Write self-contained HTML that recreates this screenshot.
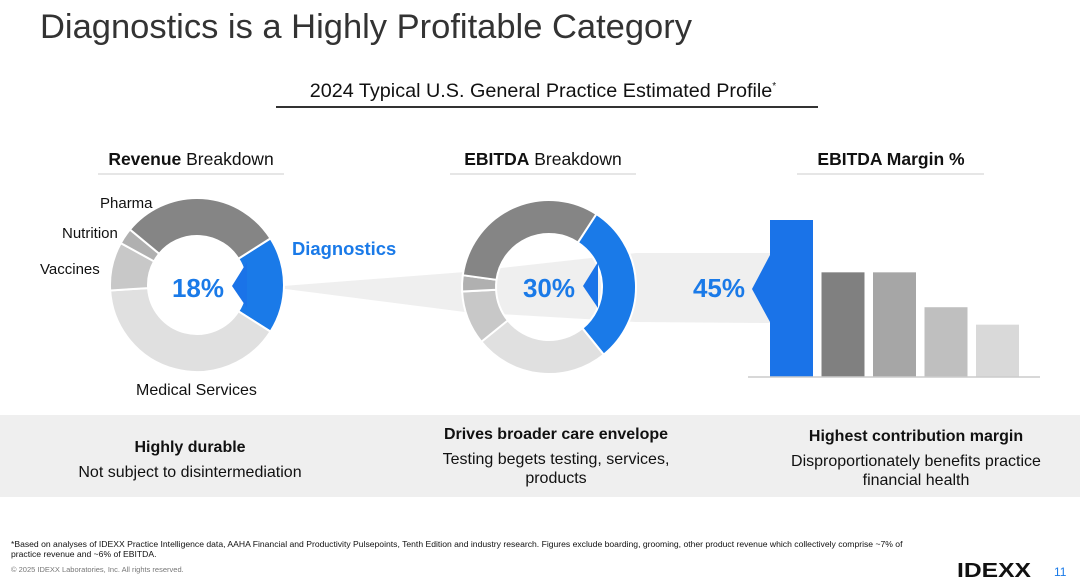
<!DOCTYPE html>
<html><head><meta charset="utf-8"><style>
html,body{margin:0;padding:0;background:#fff;}
body{width:1080px;height:583px;overflow:hidden;font-family:"Liberation Sans",sans-serif;}
svg text{font-family:"Liberation Sans",sans-serif;}
</style></head><body>
<svg id="s" width="1080" height="583" viewBox="0 0 1080 583">
<text x="40" y="38" font-size="34.5" fill="#333">Diagnostics is a Highly Profitable Category</text>
<text x="543" y="97" font-size="19.8" fill="#111" text-anchor="middle">2024 Typical U.S. General Practice Estimated Profile<tspan font-size="10" dy="-8">*</tspan></text>
<line x1="276" y1="107" x2="818" y2="107" stroke="#333" stroke-width="2"/>
<text x="191" y="165" font-size="17.5" fill="#111" text-anchor="middle"><tspan font-weight="bold">Revenue</tspan> Breakdown</text>
<line x1="98" y1="174" x2="284" y2="174" stroke="#ddd" stroke-width="1.5"/>
<text x="543" y="165" font-size="17.5" fill="#111" text-anchor="middle"><tspan font-weight="bold">EBITDA</tspan> Breakdown</text>
<line x1="450" y1="174" x2="636" y2="174" stroke="#ddd" stroke-width="1.5"/>
<text x="891" y="165" font-size="17.5" fill="#111" text-anchor="middle" font-weight="bold">EBITDA Margin %</text>
<line x1="797" y1="174" x2="984" y2="174" stroke="#ddd" stroke-width="1.5"/>
<polygon points="270,287 465,272 636,253 770,253 770,323 636,322 465,312" fill="#efefef"/>
<g id="d1"></g><g id="d2"></g><g id="bars"></g>
<polygon points="247,262 232,286 247,308" fill="#1a73e8"/>
<polygon points="598,262 583,286 598,308" fill="#1a73e8"/>
<polygon points="770,255 752,289 770,322" fill="#1a73e8"/>
<text x="198" y="297" font-size="26" font-weight="bold" fill="#1a7ae8" text-anchor="middle">18%</text>
<text x="549" y="297" font-size="26" font-weight="bold" fill="#1a7ae8" text-anchor="middle">30%</text>
<text x="719" y="297" font-size="26" font-weight="bold" fill="#1a7ae8" text-anchor="middle">45%</text>
<text x="292" y="255" font-size="18.4" font-weight="bold" fill="#1a7ae8">Diagnostics</text>
<text x="100" y="208" font-size="15" fill="#111">Pharma</text>
<text x="62" y="238" font-size="15" fill="#111">Nutrition</text>
<text x="40" y="274" font-size="15" fill="#111">Vaccines</text>
<text x="136" y="395" font-size="16" fill="#111">Medical Services</text>
<rect x="0" y="415" width="1080" height="82" fill="#efefef"/>
<text x="190" y="452" font-size="16" font-weight="bold" fill="#111" text-anchor="middle">Highly durable</text>
<text x="190" y="477" font-size="16" fill="#111" text-anchor="middle">Not subject to disintermediation</text>
<text x="556" y="439" font-size="16" font-weight="bold" fill="#111" text-anchor="middle">Drives broader care envelope</text>
<text x="556" y="464" font-size="16" fill="#111" text-anchor="middle">Testing begets testing, services,</text>
<text x="556" y="483" font-size="16" fill="#111" text-anchor="middle">products</text>
<text x="916" y="441" font-size="16" font-weight="bold" fill="#111" text-anchor="middle">Highest contribution margin</text>
<text x="916" y="466" font-size="16" fill="#111" text-anchor="middle">Disproportionately benefits practice</text>
<text x="916" y="485" font-size="16" fill="#111" text-anchor="middle">financial health</text>
<text x="11" y="547" font-size="8.6" fill="#111">*Based on analyses of IDEXX Practice Intelligence data, AAHA Financial and Productivity Pulsepoints, Tenth Edition and industry research. Figures exclude boarding, grooming, other product revenue which collectively comprise ~7% of</text>
<text x="11" y="557" font-size="8.6" fill="#111">practice revenue and ~6% of EBITDA.</text>
<text x="11" y="572" font-size="7.5" fill="#777">© 2025 IDEXX Laboratories, Inc. All rights reserved.</text>
<text x="957" y="577" font-size="20" font-weight="bold" fill="#111" textLength="74" lengthAdjust="spacingAndGlyphs">IDEXX</text>
<text x="1054" y="576" font-size="12" fill="#1a7ae8">11</text>
</svg>
<script>
const revLabels=["Diagnostics","Medical Services","Vaccines","Nutrition","Pharma"];
const revValues=[18,40,9,3,30];
const ebLabels=["Diagnostics","Medical Services","Vaccines","Nutrition","Pharma"];
const ebValues=[30,25,10,3,32];
const barCats=["Diagnostics","Cat2","Cat3","Cat4","Cat5"];
const barValues=[45,30,30,20,15];
const colors=["#1a7ae8","#e0e0e0","#c8c8c8","#b0b0b0","#858585"];
const NS="http://www.w3.org/2000/svg";
function pt(cx,cy,r,deg){const a=(deg-90)*Math.PI/180;return [cx+r*Math.cos(a),cy+r*Math.sin(a)];}
function donut(g,cx,cy,ro,ri,vals,labels,start,prefix){
  let a=start;const tot=vals.reduce((s,v)=>s+v,0);
  vals.forEach((v,i)=>{const sw=v/tot*360;const b=a+sw;const l=sw>180?1:0;
    const p1=pt(cx,cy,ro,a),p2=pt(cx,cy,ro,b),p3=pt(cx,cy,ri,b),p4=pt(cx,cy,ri,a);
    const p=document.createElementNS(NS,"path");
    p.setAttribute("d",`M${p1}A${ro},${ro} 0 ${l} 1 ${p2}L${p3}A${ri},${ri} 0 ${l} 0 ${p4}Z`);
    p.setAttribute("fill",colors[i]);p.setAttribute("stroke","#fff");p.setAttribute("stroke-width","2");
    
    
    g.appendChild(p);a=b;});
}
donut(document.getElementById("d1"),197,285,87,49,revValues,revLabels,90-revValues[0]/100*180,"revenue-slice");
donut(document.getElementById("d2"),549,287,87,53,ebValues,ebLabels,33,"ebitda-slice");
const bg=document.getElementById("bars");
const base=377,scale=157/45,x0=770,bw=43,step=51.5;
const barCols=["#1a73e8","#808080","#a6a6a6","#bfbfbf","#d9d9d9"];
barValues.forEach((v,i)=>{const r=document.createElementNS(NS,"rect");const h=v*scale;
  r.setAttribute("x",x0+i*step);r.setAttribute("y",base-h);r.setAttribute("width",bw);r.setAttribute("height",h);r.setAttribute("fill",barCols[i]);
  
  
  bg.appendChild(r);});
const ax=document.createElementNS(NS,"line");
ax.setAttribute("x1",748);ax.setAttribute("x2",1040);ax.setAttribute("y1",base);ax.setAttribute("y2",base);ax.setAttribute("stroke","#ccc");ax.setAttribute("stroke-width","1.5");


bg.appendChild(ax);
</script>
</body></html>
